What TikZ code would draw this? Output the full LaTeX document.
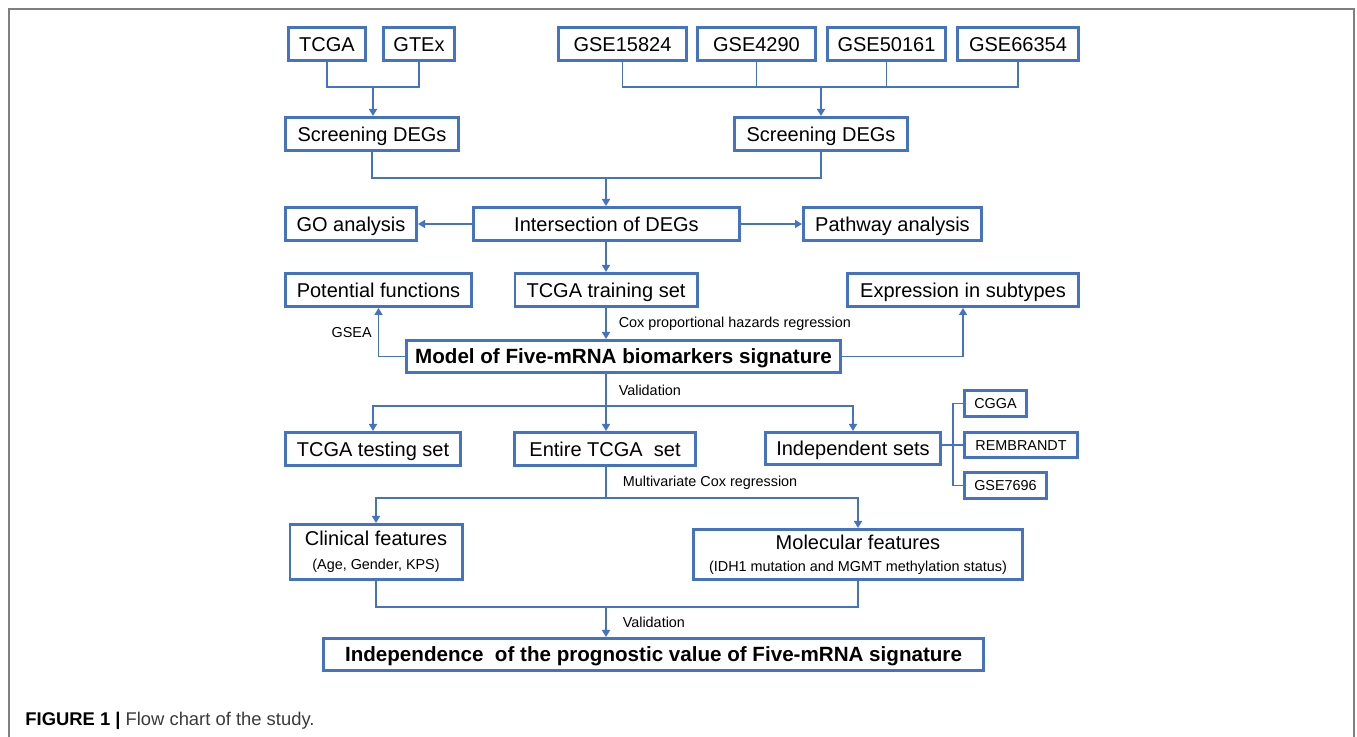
\documentclass[tikz,border=0pt]{standalone}
\usepackage{fontspec}
\setmainfont{Liberation Sans}
\usepackage{xcolor}
\usepackage{tikz}
\usetikzlibrary{arrows.meta}
\definecolor{boxblue}{HTML}{4472C4}
\definecolor{framegray}{HTML}{7F7F7F}
\definecolor{capgray}{HTML}{3A3A3A}

\begin{document}
\begin{tikzpicture}[x=0.5pt,y=-0.5pt,
    box/.style={draw=boxblue,line width=1.3pt,inner sep=0pt,minimum height=16.7pt,
      text height=7.3pt,text depth=0.2pt,font=\fontsize{10}{12}\selectfont},
    boldbox/.style={box,minimum height=16.2pt,font=\fontsize{10.3}{12}\selectfont\bfseries},
    smallbox/.style={box,minimum height=13.2pt,text height=5.3pt,text depth=0.2pt,
      font=\fontsize{7.2}{8.6}\selectfont},
    twobox/.style={draw=boxblue,line width=1.3pt,inner sep=0pt,align=center,
      font=\fontsize{10}{12}\selectfont},
    link/.style={draw=boxblue,line width=0.8pt},
    arr/.style={link,-{Triangle[length=3.5pt,width=4pt]}},
    note/.style={font=\fontsize{7.2}{8.6}\selectfont,inner sep=2pt}]
          \useasboundingbox (0,0) rectangle (1357,737);
          \draw[framegray,line width=1pt] (9,737) -- (9,9) -- (1354,9) -- (1354,737);
          \node[box,minimum width=38.7pt] (tcga) at (327,44) {TCGA};
          \node[box,minimum width=35.7pt] (gtex) at (419,44) {GTEx};
          \node[box,minimum width=64.2pt] (gse15824) at (622.5,44) {GSE15824};
          \node[box,minimum width=59.2pt] (gse4290) at (756.5,44) {GSE4290};
          \node[box,minimum width=59.2pt] (gse50161) at (886.5,44) {GSE50161};
          \node[box,minimum width=60.7pt] (gse66354) at (1018,44) {GSE66354};
          \node[box,minimum width=86.7pt] (screenL) at (372,134) {Screening DEGs};
          \node[box,minimum width=86.7pt] (screenR) at (821,134) {Screening DEGs};
          \node[box,minimum width=65.7pt] (go) at (351,224) {GO analysis};
          \node[box,minimum width=133.2pt] (inter) at (606.5,224) {Intersection of DEGs};
          \node[box,minimum width=89.2pt] (pathway) at (892.5,224) {Pathway analysis};
          \node[box,minimum width=93.2pt] (potential) at (378.5,290) {Potential functions};
          \node[box,minimum width=91.2pt] (train) at (606,290) {TCGA training set};
          \node[box,minimum width=115.7pt] (expr) at (963,290) {Expression in subtypes};
          \node[boldbox,minimum width=217.2pt] (model) at (623.5,356.5) {Model of Five-mRNA biomarkers signature};
          \node[box,minimum width=87.7pt] (testing) at (373,449) {TCGA testing set};
          \node[box,minimum width=90.7pt] (entire) at (605,449) {Entire TCGA\ \ set};
          \node[box,minimum width=87.7pt,minimum height=16.2pt] (indep) at (853,448.5) {Independent sets};
          \node[smallbox,minimum width=31.2pt] (cgga) at (995.5,403.5) {CGGA};
          \node[smallbox,minimum width=56.7pt,minimum height=12.7pt] (rembrandt) at (1021,445) {REMBRANDT};
          \node[smallbox,minimum width=41.2pt] (gse7696) at (1005.5,485.5) {GSE7696};
          \node[twobox,minimum width=86.2pt,minimum height=27.7pt] (clinical) at (376,552)
            {Clinical features\\[-0.2pt]\fontsize{7.2}{8.6}\selectfont (Age, Gender, KPS)};
          \node[twobox,minimum width=164.7pt,minimum height=25.2pt] (molecular) at (858,554.5)
            {Molecular features\\[-1.2pt]\fontsize{7.2}{8.6}\selectfont (IDH1 mutation and MGMT methylation status)};
          \node[boldbox,minimum width=330.2pt] (final) at (653.5,654.5) {Independence\ \ of the prognostic value of Five-mRNA signature};
          \coordinate (j1) at (373,87);
          \coordinate (j2) at (821,87);
          \coordinate (j3) at (606,178);
          \coordinate (j4) at (606,406);
          \coordinate (j5) at (606,498);
          \coordinate (j6) at (606,607);
          \coordinate (brk) at (953,445);
          \draw[link] (tcga.south) |- (j1) -| (gtex.south);
          \draw[arr] (j1) -- (j1 |- screenL.north);
          \draw[link] (gse15824.south) |- (j2) -| (gse66354.south);
          \draw[link] (gse4290.south) -- (gse4290.south |- j2);
          \draw[link] (gse50161.south) -- (gse50161.south |- j2);
          \draw[arr] (j2) -- (screenR.north);
          \draw[link] (screenL.south) |- (j3) -| (screenR.south);
          \draw[arr] (j3) -- (j3 |- inter.north);
          \draw[arr] (inter.west) -- (go.east);
          \draw[arr] (inter.east) -- (pathway.west);
          \draw[arr] (inter.south -| train.north) -- (train.north);
          \draw[arr] (train.south) -- (train.south |- model.north)
            node[note,midway,right=4pt] (coxlabel) {Cox proportional hazards regression};
          \draw[arr] (model.west) -| (potential.south) node[note,pos=0.75,left=1pt] (gsealabel) {GSEA};
          \draw[arr] (model.east) -| (expr.south);
          \draw[link] (j4 |- model.south) -- (j4) node[note,midway,right=4pt] (vallabel) {Validation};
          \draw[arr] (j4) -| (testing.north);
          \draw[arr] (j4) -- (j4 |- entire.north);
          \draw[arr] (j4) -| (indep.north);
          \draw[link] (indep.east |- brk) -- (rembrandt.west);
          \draw[link] (cgga.west) -| (brk) |- (gse7696.west);
          \draw[link] (j5 |- entire.south) -- (j5) node[note,midway,right=6pt] (multilabel) {Multivariate Cox regression};
          \draw[arr] (j5) -| (clinical.north);
          \draw[arr] (j5) -| (molecular.north);
          \draw[link] (clinical.south) |- (j6) -| (molecular.south);
          \draw[arr] (j6) -- (j6 |- final.north) node[note,midway,right=6pt] (val2label) {Validation};
          \node[anchor=base west,inner sep=0pt,font=\fontsize{9.2}{11}\selectfont] (caption) at (25,726)
            {\textbf{FIGURE 1 |} \textcolor{capgray}{Flow chart of the study.}};
        \end{tikzpicture}
\end{document}
